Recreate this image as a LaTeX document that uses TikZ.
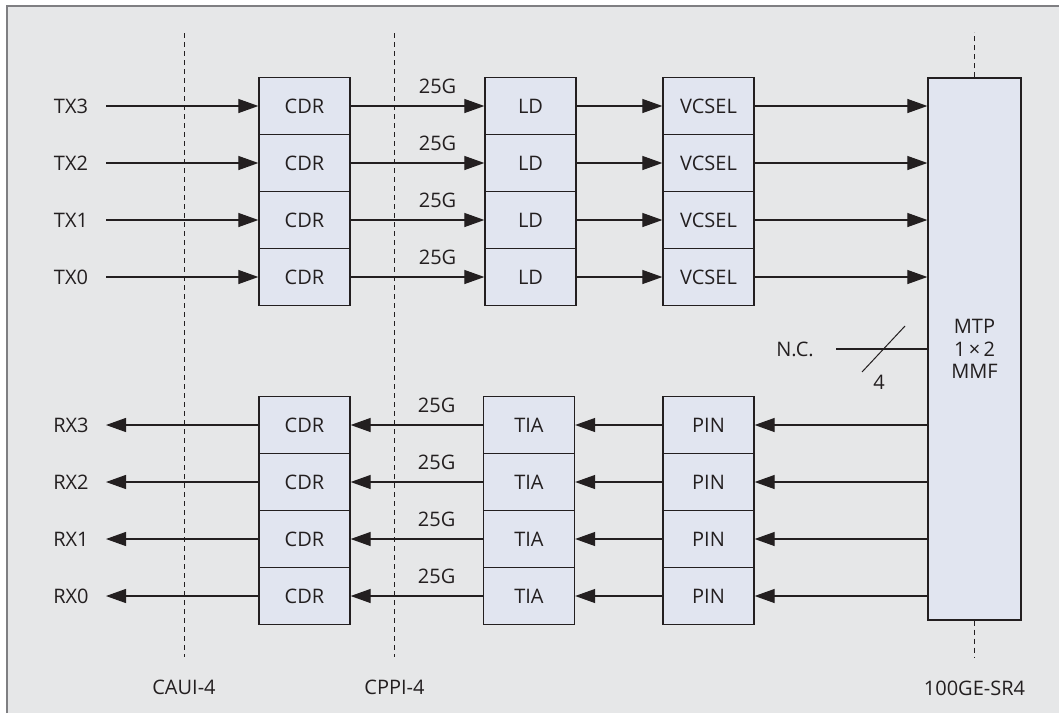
\documentclass[tikz,border=0pt]{standalone}
\usepackage{fontspec}
\setmainfont{Open Sans}
\usepackage{tikz}
\usetikzlibrary{positioning,arrows.meta}
\definecolor{bgfill}{HTML}{E6E7E8}
\definecolor{boxfill}{HTML}{E1E5F0}
\definecolor{frame}{HTML}{7F7F82}
\definecolor{ink}{HTML}{231F20}
\tikzset{
  blk/.style={draw=ink, fill=boxfill, line width=0.65pt, minimum width=45.5pt,
    minimum height=28.5pt, inner sep=0pt},
  sig/.style={-{Triangle[length=10pt,width=7pt]}, draw=ink, line width=0.6pt},
  cut/.style={draw=ink, line width=0.5pt, dash pattern=on 2.5pt off 2pt},
  rate/.style={above=6pt, inner sep=0pt}
}
\begin{document}
\begin{tikzpicture}[x=0.5pt, y=-0.5pt,
    every node/.style={font=\fontsize{10}{11.25}\selectfont, text=ink}]
    \useasboundingbox (0,0) rectangle (1059,713);
    \fill[bgfill] (7,6) rectangle (1059,713);
    \draw[frame, line width=1pt] (7,713) -- (7,6) -- (1059,6);

    % fibre connector
    \node[blk, minimum width=46.5pt, minimum height=271pt, align=center]
        (mtp) at (974.5,349) {MTP\\1\,×\,2\\MMF};

    % transmit lanes
    \foreach \n/\y in {3/106,2/163,1/220,0/277}{
        \node (tx\n) at (71,\y) {TX\n};
        \coordinate (txs\n) at (106,\y);
        \node[blk] (cdrt\n) at (304.5,\y) {CDR};
        \node[blk] (ld\n) at (530.5,\y) {LD};
        \node[blk] (vcsel\n) at (708.5,\y) {VCSEL};
        \draw[sig] (txs\n) -- (cdrt\n);
        \draw[sig] (cdrt\n) -- node[rate, pos=0.65] {25G} (ld\n);
        \draw[sig] (ld\n) -- (vcsel\n);
        \draw[sig] (vcsel\n) -- (vcsel\n -| mtp.west);
    }

    % receive lanes
    \foreach \n/\y in {3/425,2/482,1/539,0/596}{
        \node (rx\n) at (71,\y) {RX\n};
        \coordinate (rxe\n) at (106,\y);
        \node[blk] (cdrr\n) at (304.5,\y) {CDR};
        \node[blk] (tia\n) at (529,\y) {TIA};
        \node[blk] (pin\n) at (708.5,\y) {PIN};
        \draw[sig] (pin\n -| mtp.west) -- (pin\n);
        \draw[sig] (pin\n) -- (tia\n);
        \draw[sig] (tia\n) -- node[rate, pos=0.35] {25G} (cdrr\n);
        \draw[sig] (cdrr\n) -- (rxe\n);
    }

    % unused lanes
    \node (nc) at (795,349) {N.C.};
    \coordinate (ncs) at (836,349);
    \draw[ink, line width=0.6pt] (ncs) -- (mtp.west);
    \draw[ink, line width=0.5pt] (862,372) -- (905,326);
    \node (bus) at (879,382) {4};

    % interface boundaries
    \coordinate (caui) at (184,33);
    \coordinate (cppi) at (394.5,33);
    \draw[cut] (caui) -- ++(0,624) node[below=8pt] (cauil) {CAUI-4};
    \draw[cut] (cppi) -- ++(0,624) node[below=8pt] (cppil) {CPPI-4};
    \draw[cut] (mtp.north) -- ++(0,-45);
    \draw[cut] (mtp.south) -- ++(0,37) node[below=8pt] (srl) {100GE-SR4};
\end{tikzpicture}
\end{document}
